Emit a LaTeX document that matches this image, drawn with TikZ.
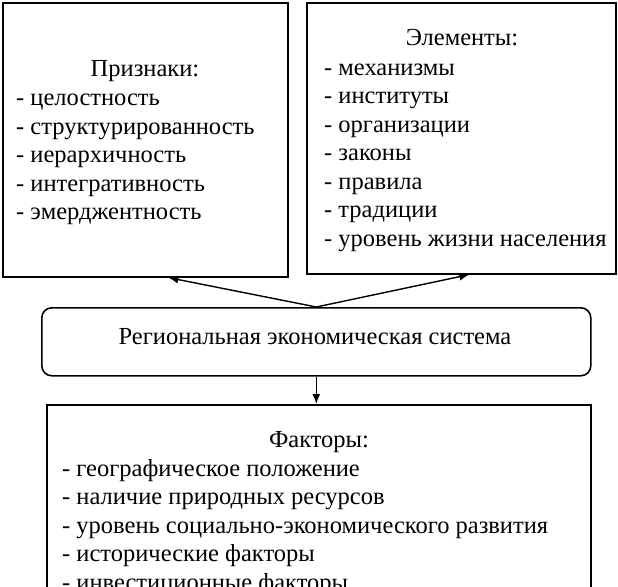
\documentclass[tikz,border=0pt]{standalone}
\usepackage{fontspec}
\setmainfont{Liberation Serif}
\usetikzlibrary{arrows.meta}
\begin{document}
\begin{tikzpicture}[x=1pt,y=-1pt,
  box/.style={draw, line width=1.6pt, inner sep=0pt, anchor=north west},
  txt/.style={anchor=base west, inner sep=0pt, font=\fontsize{24.5}{28}\selectfont},
  ttl/.style={anchor=base, inner sep=0pt, font=\fontsize{24.5}{28}\selectfont},
  arr/.style={-{Latex[length=10pt,width=8pt]}, line width=1.4pt}]
\useasboundingbox (0,0) rectangle (618,586);
\clip (0,0) rectangle (618,586);
% boxes
\node[box, minimum width=285pt, minimum height=274pt] (lb) at (2,2) {};
\node[box, minimum width=309pt, minimum height=271pt] (rb) at (306,2) {};
\node[box, rounded corners=10pt, minimum width=549pt, minimum height=68pt] (sys) at (41,307) {};
\node[box, minimum width=544pt, minimum height=200pt] (bb) at (46,404) {};
% left box text
\node[ttl] (lt) at (145,77) {Признаки:};
\foreach \t [count=\i from 0] in {целостность, структурированность, иерархичность, интегративность, эмерджентность}
  \node[txt] (l\i) at (16,105.5+28.6*\i) {- \t};
% right box text
\node[ttl] (rt) at (462,46) {Элементы:};
\foreach \t [count=\i from 0] in {механизмы, институты, организации, законы, правила, традиции, уровень жизни населения}
  \node[txt] (r\i) at (324,75+28.5*\i) {- \t};
% system text
\node[ttl] (st) at (315,344) {Региональная экономическая система};
% bottom box text
\node[ttl] (bt) at (319,447) {Факторы:};
\foreach \t [count=\i from 0] in {географическое положение, наличие природных ресурсов, уровень социально-экономического развития, исторические факторы, инвестиционные факторы}
  \node[txt] (b\i) at (62,476+28.5*\i) {- \t};
% connectors
\draw[arr] (sys.north) -- ([xshift=23pt]lb.south);
\draw[arr] (sys.north) -- ([xshift=8pt]rb.south);
\draw[arr] (sys.south) -- (sys.south |- bb.north);
\end{tikzpicture}
\end{document}
